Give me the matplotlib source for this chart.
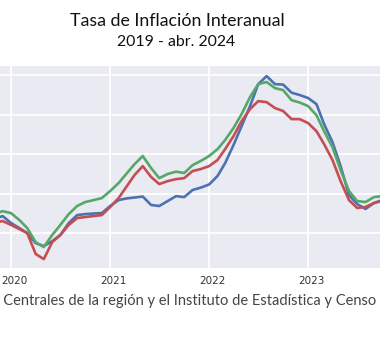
import matplotlib
matplotlib.use("Agg")
import matplotlib.pyplot as plt
import matplotlib.dates as mdates
import matplotlib.transforms as mtransforms
import pandas as pd
import seaborn as sns

# monthly year-on-year inflation (%), Nov 2019 - Oct 2023
months = pd.date_range("2019-11-01", "2023-10-01", freq="MS")

serie_azul = [2.71, 2.86, 2.51, 2.25, 2.00, 1.49, 1.34, 1.59, 1.90, 2.51, 2.91, 2.96,
              2.99, 3.01, 3.37, 3.67, 3.75, 3.80, 3.85, 3.42, 3.37, 3.62, 3.87, 3.82,
              4.18, 4.30, 4.46, 4.89, 5.54, 6.46, 7.42, 8.43, 9.54, 9.95, 9.54, 9.52,
              9.11, 8.99, 8.84, 8.53, 7.52, 6.61, 5.39, 3.92, 3.47, 3.22, 3.52, 3.67]
serie_verde = [2.96, 3.11, 3.01, 2.66, 2.25, 1.54, 1.29, 1.90, 2.41, 2.96, 3.37, 3.57,
               3.67, 3.77, 4.13, 4.53, 4.99, 5.49, 5.90, 5.29, 4.78, 4.99, 5.11, 5.04,
               5.44, 5.65, 5.90, 6.25, 6.71, 7.32, 8.03, 8.89, 9.54, 9.65, 9.34, 9.24,
               8.73, 8.61, 8.43, 7.97, 7.16, 6.35, 5.19, 4.13, 3.62, 3.57, 3.82, 3.87]
serie_roja = [2.51, 2.61, 2.41, 2.20, 2.00, 0.94, 0.68, 1.54, 1.90, 2.41, 2.76, 2.81,
              2.86, 2.91, 3.32, 3.77, 4.33, 4.94, 5.39, 4.84, 4.48, 4.63, 4.73, 4.78,
              5.14, 5.24, 5.39, 5.70, 6.25, 6.91, 7.67, 8.28, 8.68, 8.63, 8.33, 8.18,
              7.77, 7.77, 7.57, 7.16, 6.51, 5.70, 4.63, 3.67, 3.27, 3.32, 3.52, 3.62]

titulo = "Tasa de Inflación Interanual"
subtitulo = "2019 - abr. 2024"
fuente = "Fuente: Bancos Centrales de la región y el Instituto de Estadística y Censo"

sns.set_style("darkgrid")
plt.rcParams["font.family"] = ["DejaVu Sans"]

W, H = 380, 347
fig = plt.figure(figsize=(W / 100, H / 100), dpi=100)
fig.patch.set_facecolor("white")

# plot box spans y 66..268 px and the whole width
ax = fig.add_axes([0, (H - 268) / H, 1, (268 - 66) / H])

ax.plot(months, serie_azul, color="#4C72B0", lw=1.9)
ax.plot(months, serie_verde, color="#55A868", lw=1.9)
ax.plot(months, serie_roja, color="#C44E52", lw=1.9)

x0 = mdates.date2num(pd.Timestamp("2020-01-01"))
px_day = 99 / 365.25
ax.set_xlim(x0 - 11 / px_day, x0 + (W - 11) / px_day)
ax.set_ylim(0.23, 10.46)
ax.set_yticks([2, 4, 6, 8, 10])
ax.set_yticklabels([])
ax.xaxis.set_major_locator(mdates.YearLocator())
ax.xaxis.set_major_formatter(mdates.DateFormatter("%Y"))
ax.tick_params(axis="x", labelsize=7.5, colors="#333333", pad=6, length=0)
ax.tick_params(axis="y", length=0)
ax.grid(color="white", lw=1.3)
for s in ax.spines.values():
    s.set_visible(False)

# year labels sit a little right of their gridline
shift = mtransforms.ScaledTranslation(3 / 100, 0, fig.dpi_scale_trans)
for lbl in ax.get_xticklabels():
    lbl.set_transform(lbl.get_transform() + shift)

fig.text(177 / W, 1 - 21 / H, titulo, ha="center", va="center",
         fontsize=12.8, color="#111111", family="Lato")
fig.text(176 / W, 1 - 42 / H, subtitulo, ha="center", va="center",
         fontsize=11.4, color="#111111", family="Lato")
fig.text(376 / W, 1 - 301 / H, fuente, ha="right", va="center",
         fontsize=10.55, color="#444444", family="Lato")

fig.savefig("out.png", dpi=100)
